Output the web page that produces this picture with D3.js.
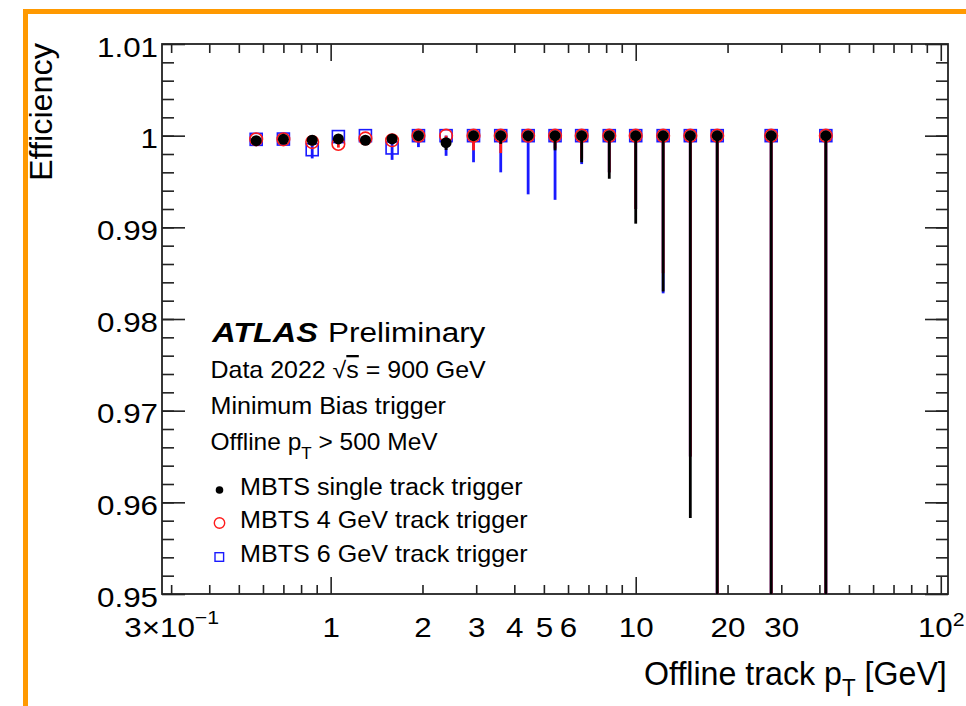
<!DOCTYPE html>
<html lang="en">
<head>
<meta charset="UTF-8">
<title>Trigger efficiency vs offline track pT</title>
<script src="https://unpkg.com/d3@7/dist/d3.min.js"></script>
<style>
  body { margin: 0; background: #fff; }
  svg { display: block; }
</style>
</head>
<body>
<script>
// bin centres (GeV)
var ptBins = [0.57, 0.70, 0.87, 1.06, 1.30, 1.59, 1.94, 2.39, 2.94, 3.61,
              4.44, 5.44, 6.65, 8.19, 10.0, 12.3, 15.1, 18.5, 27.8, 42.0];

// MBTS single track trigger
var effSingle   = [0.99945, 0.9996, 0.9995, 0.99964, 0.9995, 0.99964, 1, 0.99924, 1, 1,
                   1, 1, 1, 1, 1, 1, 1, 1, 1, 1];
var errLoSingle = [0.0003, 0.0003, 0.0003, 0.0003, 0.0003, 0.0003, 0.0004, 0.0008, 0.0005, 0.0009,
                   0.0006, 0.0016, 0.0029, 0.0047, 0.0096, 0.0170, 0.0417, 0.08, 0.12, 0.15];
var errHiSingle = [0.0002, 0.0002, 0.0002, 0.0002, 0.0002, 0.0002, 0, 0.0005, 0, 0,
                   0, 0, 0, 0, 0, 0, 0, 0, 0, 0];

// MBTS 4 GeV track trigger
var eff4   = [0.9996, 0.9996, 0.9993, 0.9991, 0.9997, 0.9995, 1, 1, 1, 1,
              1, 1, 1, 1, 1, 1, 1, 1, 1, 1];
var errLo4 = [0.0003, 0.0003, 0.0004, 0.0004, 0.0003, 0.0004, 0.0005, 0.0010, 0.0016, 0.0019,
              0.0005, 0.0014, 0.0025, 0.0040, 0.0080, 0.0150, 0.0350, 0.07, 0.10, 0.13];
var errHi4 = [0.0002, 0.0002, 0.0004, 0.0005, 0.0002, 0.0003, 0, 0, 0, 0,
              0, 0, 0, 0, 0, 0, 0, 0, 0, 0];

// MBTS 6 GeV track trigger
var eff6   = [0.9996, 0.99963, 0.99847, 0.9999, 1, 0.99866, 1, 1, 1, 1,
              1, 1, 1, 1, 1, 1, 1, 1, 1, 1];
var errLo6 = [0.0003, 0.0003, 0.00095, 0.0003, 0.0003, 0.0013, 0.00125, 0.0022, 0.0029, 0.0040,
              0.0064, 0.0070, 0.0031, 0.0040, 0.0080, 0.0172, 0.0350, 0.07, 0.10, 0.13];
var errHi6 = [0.0002, 0.0002, 0.0005, 0.0001, 0, 0.0005, 0, 0, 0, 0,
              0, 0, 0, 0, 0, 0, 0, 0, 0, 0];

// axis ticks and labels
var xMajor  = [1, 10, 100];
var xMinor  = [0.3, 0.4, 0.5, 0.6, 0.7, 0.8, 0.9, 2, 3, 4, 5, 6, 7, 8, 9,
               20, 30, 40, 50, 60, 70, 80, 90];
var xLabels = [0.3, 1, 2, 3, 4, 5, 6, 10, 20, 30, 100];
var yMajor  = [0.95, 0.96, 0.97, 0.98, 0.99, 1, 1.01];
var yLabels = ['0.95', '0.96', '0.97', '0.98', '0.99', '1', '1.01'];

var FONT = "'Liberation Sans', Arial, Helvetica, sans-serif";
var W = 966, H = 706;
var L = 162, R = 948, T = 44, B = 594;

var svg = d3.select('body').append('svg').attr('width', W).attr('height', H);

// orange slide frame
svg.append('rect').attr('x', 23).attr('y', 9).attr('width', W).attr('height', 5).attr('fill', '#ff9900');
svg.append('rect').attr('x', 23).attr('y', 9).attr('width', 5).attr('height', H).attr('fill', '#ff9900');

var x = d3.scaleLog().domain([0.28, 105.6]).range([L, R]);
var y = d3.scaleLinear().domain([0.95, 1.01]).range([B, T]);
var yMinor = d3.range(0.952, 1.0095, 0.002);

function noDomain(g) { g.select('.domain').remove(); }
function tickStyle(g) { g.selectAll('line').attr('stroke', '#222').attr('stroke-width', 1.6); }

// ticks on all four sides, pointing inwards
svg.append('g').attr('transform', `translate(0,${B})`)
  .call(d3.axisBottom(x).tickValues(xMinor).tickSize(-9).tickFormat(''))
  .call(noDomain).call(tickStyle);
svg.append('g').attr('transform', `translate(0,${B})`)
  .call(d3.axisBottom(x).tickValues(xMajor).tickSize(-17).tickFormat(''))
  .call(noDomain).call(tickStyle);
svg.append('g').attr('transform', `translate(0,${T})`)
  .call(d3.axisTop(x).tickValues(xMinor).tickSize(-9).tickFormat(''))
  .call(noDomain).call(tickStyle);
svg.append('g').attr('transform', `translate(0,${T})`)
  .call(d3.axisTop(x).tickValues(xMajor).tickSize(-17).tickFormat(''))
  .call(noDomain).call(tickStyle);

svg.append('g').attr('transform', `translate(${L},0)`)
  .call(d3.axisLeft(y).tickValues(yMinor).tickSize(-12).tickFormat(''))
  .call(noDomain).call(tickStyle);
svg.append('g').attr('transform', `translate(${L},0)`)
  .call(d3.axisLeft(y).tickValues(yMajor).tickSize(-23).tickFormat(''))
  .call(noDomain).call(tickStyle);
svg.append('g').attr('transform', `translate(${R},0)`)
  .call(d3.axisRight(y).tickValues(yMinor).tickSize(-12).tickFormat(''))
  .call(noDomain).call(tickStyle);
svg.append('g').attr('transform', `translate(${R},0)`)
  .call(d3.axisRight(y).tickValues(yMajor).tickSize(-23).tickFormat(''))
  .call(noDomain).call(tickStyle);

// frame
svg.append('rect').attr('x', L).attr('y', T).attr('width', R - L).attr('height', B - T)
  .attr('fill', 'none').attr('stroke', '#222').attr('stroke-width', 1.8);

// tick labels
var SX = 1.12;
var yLab = svg.append('g').attr('transform', `translate(${L},0)`)
  .call(d3.axisLeft(y).tickValues(yMajor).tickSize(0).tickFormat((d, i) => yLabels[i]))
  .call(noDomain);
yLab.attr('font-family', FONT).attr('font-size', 28);
yLab.selectAll('text').attr('fill', '#000').attr('x', -4 / SX).attr('y', 2).attr('dy', '0.36em')
  .attr('transform', `scale(${SX},1)`);

var xLab = svg.append('g').attr('transform', `translate(0,${B})`)
  .call(d3.axisBottom(x).tickValues(xLabels).tickSize(0).tickFormat(d => String(d)))
  .call(noDomain);
xLab.attr('font-family', FONT).attr('font-size', 28);
xLab.selectAll('text').attr('fill', '#000').attr('y', 43).attr('dy', 0)
  .attr('transform', `scale(${SX},1)`)
  .each(function (d) {
    var t = d3.select(this);
    if (d === 0.3) {
      t.text('3\u00d710');
      t.append('tspan').attr('font-size', 19).attr('dy', -13).text('\u22121');
    } else if (d === 100) {
      t.text('10');
      t.append('tspan').attr('font-size', 19).attr('dy', -11).text('2');
    }
  });

// text helper: fits to a measured width, optional rotation
function fitText(o) {
  var t = svg.append('text').attr('font-family', FONT).attr('font-size', o.size)
    .attr('fill', '#000');
  if (o.weight) t.attr('font-weight', o.weight);
  if (o.style) t.attr('font-style', o.style);
  o.parts.forEach(function (p) {
    var s = t.append('tspan').text(p.t);
    if (p.size) s.attr('font-size', p.size);
    if (p.dy) s.attr('dy', p.dy);
    if (p.over) s.style('text-decoration', 'overline');
  });
  var b = t.node().getBBox();
  var s = o.width ? o.width / b.width : 1;
  var off = o.anchor === 'end' ? -(b.x + b.width) : o.anchor === 'middle' ? -(b.x + b.width / 2) : -b.x;
  t.attr('transform', `translate(${o.x},${o.y}) rotate(${o.rotate || 0}) scale(${s},1) translate(${off},0)`);
  return t;
}

// axis titles
fitText({ x: 52, y: 43, rotate: -90, anchor: 'end', size: 32, width: 138, parts: [{ t: 'Efficiency' }] });
fitText({ x: 947, y: 685, anchor: 'end', size: 33, width: 303,
  parts: [{ t: 'Offline track p' }, { t: 'T', size: 23, dy: 11 }, { t: ' [GeV]', dy: -11 }] });

// ATLAS label block
fitText({ x: 211, y: 342, size: 27, width: 107, weight: 'bold', style: 'italic', parts: [{ t: 'ATLAS' }] });
fitText({ x: 328, y: 342, size: 27, width: 158, parts: [{ t: 'Preliminary' }] });
fitText({ x: 210.5, y: 378, size: 23, width: 276,
  parts: [{ t: 'Data 2022 \u221a' }, { t: 's', over: true }, { t: ' = 900 GeV' }] });
fitText({ x: 210.5, y: 414, size: 23, width: 236, parts: [{ t: 'Minimum Bias trigger' }] });
fitText({ x: 210.5, y: 450, size: 23, width: 228,
  parts: [{ t: 'Offline p' }, { t: 'T', size: 16, dy: 9 }, { t: ' > 500 MeV', dy: -9 }] });

// series (drawn back to front)
var series = [
  { name: 'MBTS 6 GeV track trigger', eff: eff6, lo: errLo6, hi: errHi6, color: '#1a1aff', marker: 'square' },
  { name: 'MBTS 4 GeV track trigger', eff: eff4, lo: errLo4, hi: errHi4, color: '#ff1a1a', marker: 'circle' },
  { name: 'MBTS single track trigger', eff: effSingle, lo: errLoSingle, hi: errHiSingle, color: '#000', marker: 'dot' }
];

svg.append('clipPath').attr('id', 'plotClip')
  .append('rect').attr('x', L).attr('y', T).attr('width', R - L).attr('height', B - T);
var plot = svg.append('g').attr('clip-path', 'url(#plotClip)');

series.forEach(function (s) {
  var g = plot.append('g');
  g.selectAll('line').data(ptBins).enter().append('line')
    .attr('x1', d => x(d)).attr('x2', d => x(d))
    .attr('y1', (d, i) => y(s.eff[i] + s.hi[i]))
    .attr('y2', (d, i) => y(s.eff[i] - s.lo[i]))
    .attr('stroke', s.color).attr('stroke-width', 2.8);
  var m = g.selectAll('.m').data(ptBins).enter();
  if (s.marker === 'square') {
    m.append('rect').attr('class', 'm')
      .attr('x', d => x(d) - 6).attr('y', (d, i) => y(s.eff[i]) - 6)
      .attr('width', 12).attr('height', 12)
      .attr('fill', 'none').attr('stroke', s.color).attr('stroke-width', 1.6);
  } else if (s.marker === 'circle') {
    m.append('circle').attr('class', 'm')
      .attr('cx', d => x(d)).attr('cy', (d, i) => y(s.eff[i])).attr('r', 6.3)
      .attr('fill', 'none').attr('stroke', s.color).attr('stroke-width', 1.6);
  } else {
    m.append('circle').attr('class', 'm')
      .attr('cx', d => x(d)).attr('cy', (d, i) => y(s.eff[i])).attr('r', 5.5)
      .attr('fill', s.color);
  }
});

// legend
var legY = [490, 523, 557];
var legWidths = [283, 288, 288];
series.slice().reverse().forEach(function (s, i) {
  var cy = legY[i];
  if (s.marker === 'dot') {
    svg.append('circle').attr('cx', 219.5).attr('cy', cy).attr('r', 3.8).attr('fill', s.color);
  } else if (s.marker === 'circle') {
    svg.append('circle').attr('cx', 219.5).attr('cy', cy).attr('r', 5.2)
      .attr('fill', 'none').attr('stroke', s.color).attr('stroke-width', 1.4);
  } else {
    svg.append('rect').attr('x', 215).attr('y', cy - 4.3).attr('width', 8.6).attr('height', 8.6)
      .attr('fill', 'none').attr('stroke', s.color).attr('stroke-width', 1.4);
  }
  fitText({ x: 240, y: cy + 5, size: 23, width: legWidths[i], parts: [{ t: s.name }] });
});
</script>
</body>
</html>
